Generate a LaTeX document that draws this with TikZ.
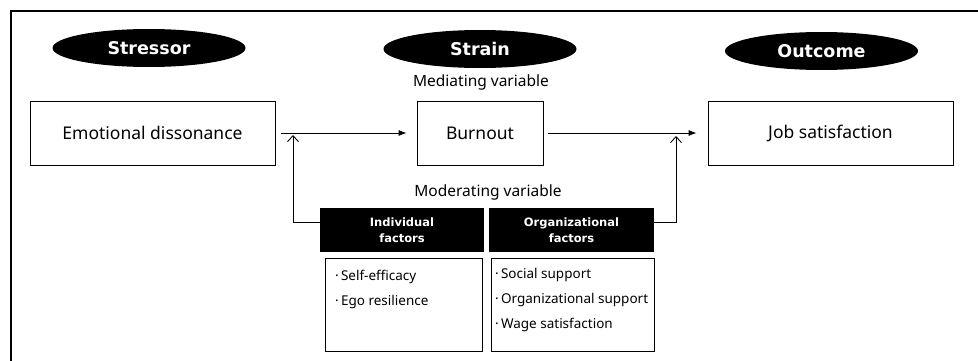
\documentclass[tikz,border=0pt]{standalone}
\usepackage{fontspec}
\setmainfont{Noto Sans}
\newfontfamily\heavyfont{DejaVu Sans}
\usetikzlibrary{shapes,arrows.meta,positioning}

\begin{document}
\begin{tikzpicture}[x=1pt,y=-1pt,
                stage/.style={ellipse,fill=black,text=white,inner sep=0pt,minimum width=193pt,minimum height=38pt,font=\heavyfont\bfseries\fontsize{17.5}{20}\selectfont},
                var/.style={draw,line width=0.8pt,minimum height=64pt,inner sep=0pt,font=\fontsize{17.5}{20}\selectfont},
                factor/.style={fill=black,text=white,align=center,inner sep=0pt,minimum width=164pt,minimum height=44pt,font=\heavyfont\bfseries\fontsize{11.5}{16}\selectfont},
                listbox/.style={draw,line width=0.8pt,inner sep=0pt,minimum height=93pt},
                item/.style={anchor=west,inner sep=0pt,font=\fontsize{13.5}{16}\selectfont},
                note/.style={font=\fontsize{15.5}{18}\selectfont},
                flow/.style={-{Latex[length=8pt,width=6pt]},line width=0.8pt},
                modflow/.style={-{Straight Barb[length=6pt,width=11pt]},line width=0.9pt}]
                \useasboundingbox (0,0) rectangle (978,361);
                \draw[line width=1.2pt] (11,361) -- (11,11) -- (978,11);
                \node[stage] (stressor) at (149,48) {Stressor};
                \node[stage] (strain) at (480,49) {Strain};
                \node[stage] (outcome) at (821.5,51) {Outcome};
                \node[var,minimum width=245pt] (emo) at (152.5,133) {Emotional dissonance};
                \node[var,minimum width=126pt] (burn) at (480,133) {Burnout};
                \node[var,minimum width=245pt] (job) at (830.5,133) {Job satisfaction};
                \node[note] (med) at (481,82) {Mediating variable};
                \node[note] (mod) at (488,192) {Moderating variable};
                \node[factor] (indiv) at (402,230) {Individual\\factors};
                \node[factor,minimum width=165pt] (orgf) at (571.5,230) {Organizational\\factors};
                \node[listbox,minimum width=157pt] (indlist) at (403.5,304.5) {};
                \node[listbox,minimum width=163pt] (orglist) at (572.5,304.5) {};
                \node[item] (self) at (335,277) {·\,Self-efficacy};
                \node[item] (ego) at (335,302) {·\,Ego resilience};
                \node[item] (soc) at (495,275) {·\,Social support};
                \node[item] (orgs) at (495,300) {·\,Organizational support};
                \node[item] (wage) at (495,325) {·\,Wage satisfaction};
                \coordinate (m1) at (293,135);
                \coordinate (m2) at (676,136);
                \draw[flow,shorten <=6pt,shorten >=10pt] (emo) -- (burn);
                \draw[flow,shorten <=5pt,shorten >=11pt] (burn) -- (job);
                \draw[modflow] ([yshift=8pt]indiv.west) -| (m1);
                \draw[modflow] ([yshift=8pt]orgf.east) -| (m2);
            \end{tikzpicture}
\end{document}
